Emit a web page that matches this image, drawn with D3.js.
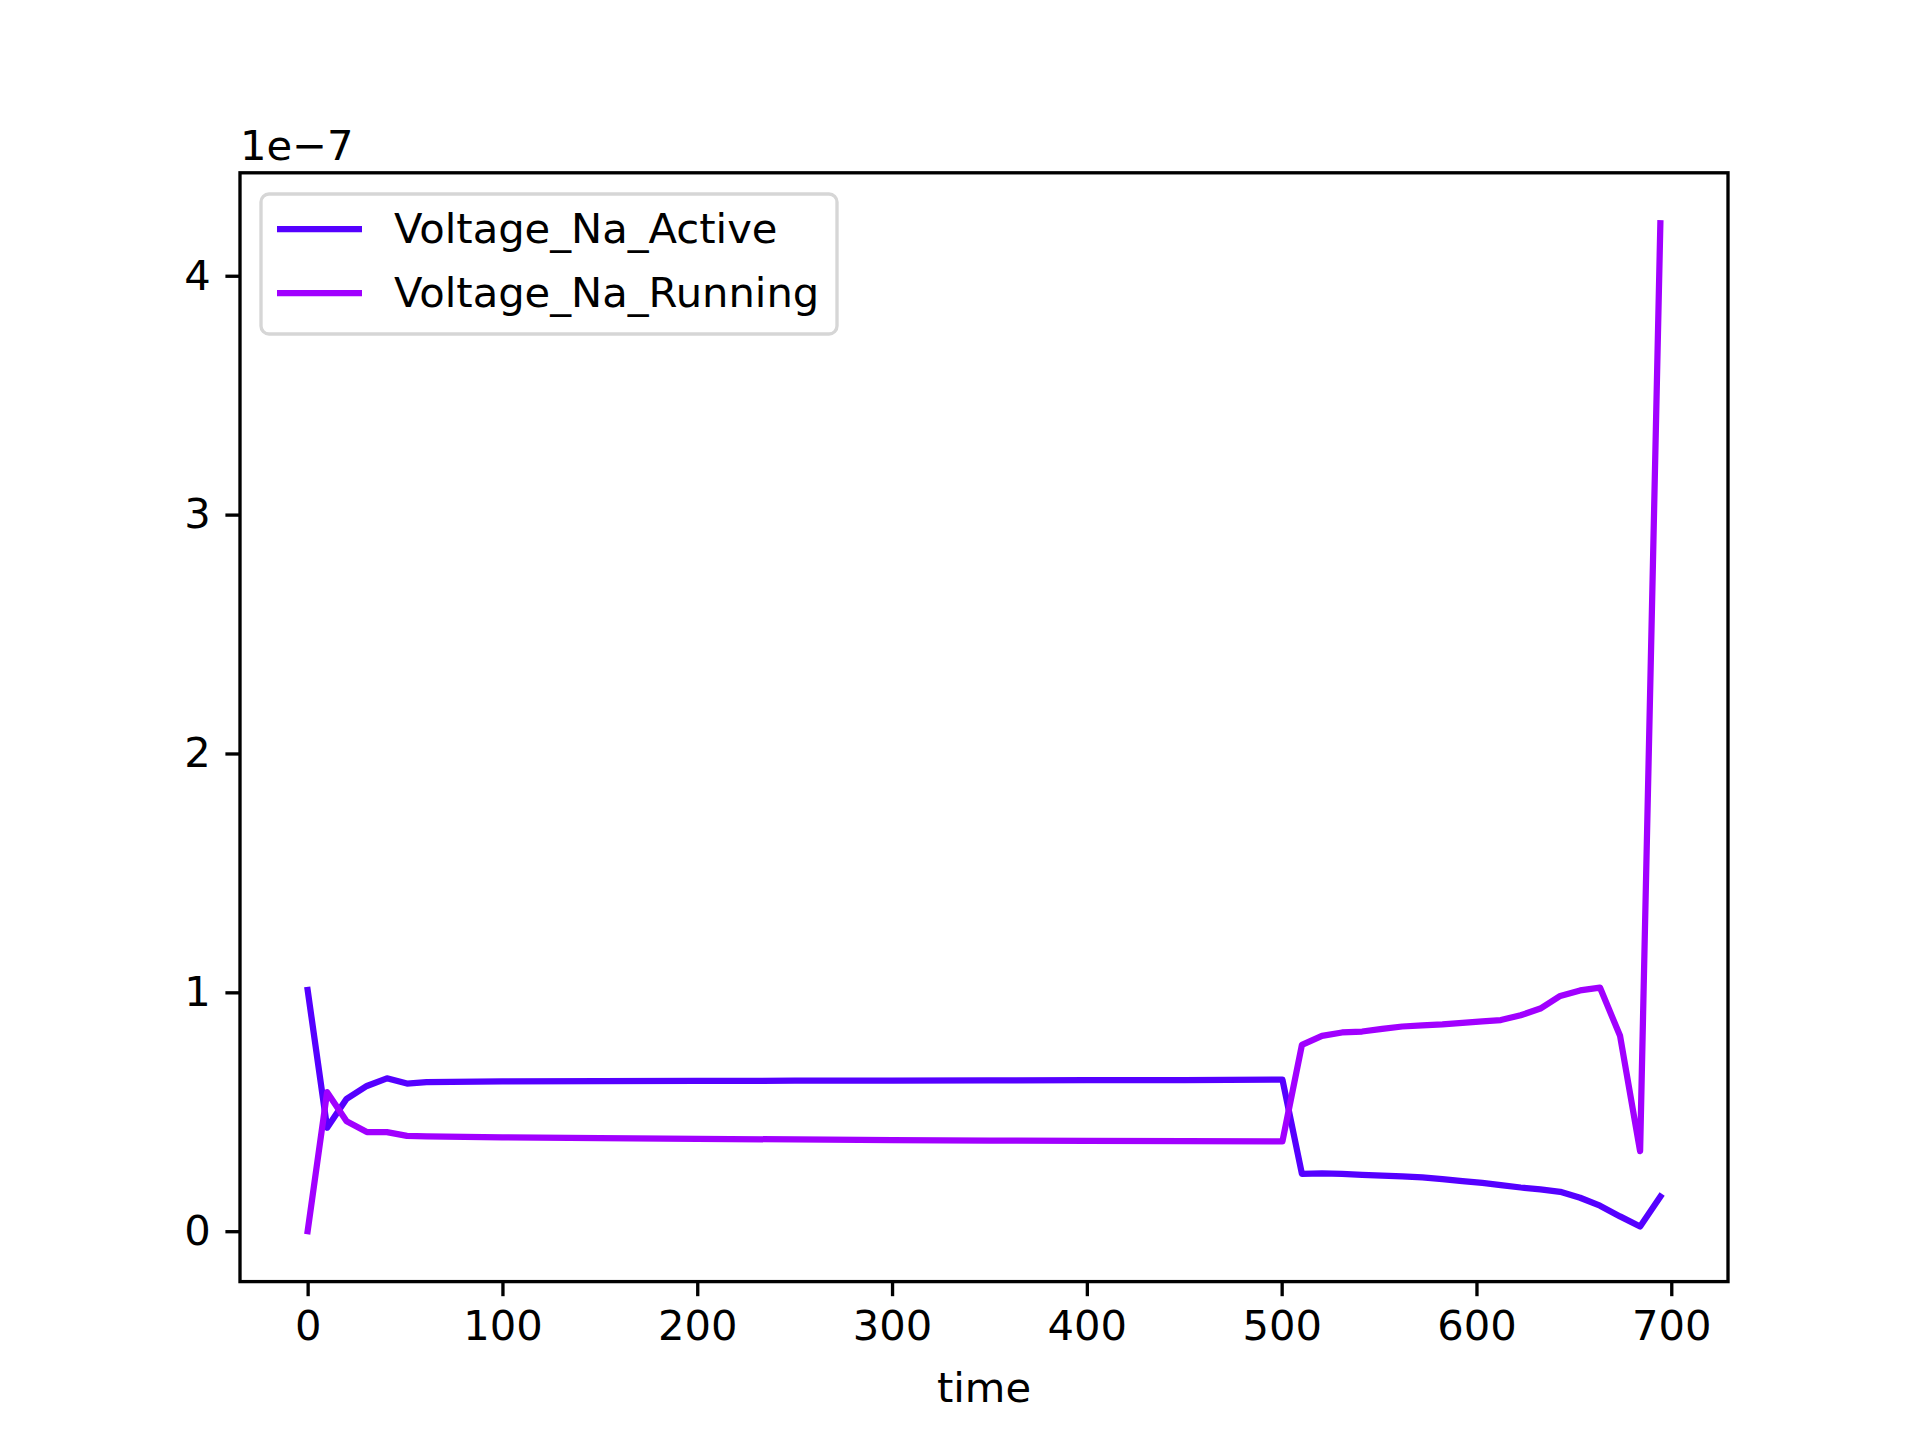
<!DOCTYPE html>
<html>
<head>
<meta charset="utf-8">
<script src="https://cdn.jsdelivr.net/npm/d3@7"></script>
<style>
  body { margin: 0; background: #fff; }
  svg { display: block; font-family: "DejaVu Sans", sans-serif; }
</style>
</head>
<body>
<svg id="chart" width="1920" height="1440"></svg>
<script>
// tempi (asse x)
const time = [0, 10, 20, 30.4, 40.7, 51, 61, 100, 150, 200, 250, 300, 350, 400, 450, 500.4,
  510.4, 520.7, 531, 541.3, 551.6, 561.9, 572.2, 582.5, 592.8, 603, 612.5, 622.7, 632.8,
  643, 653.2, 663.4, 673.7, 684, 694.4];

// valori in unità di 1e-7
const naActive = [1.01, 0.433, 0.554, 0.608, 0.64, 0.618, 0.624, 0.627, 0.628, 0.629, 0.63, 0.63, 0.631, 0.632, 0.632, 0.635,
  0.24, 0.242, 0.24, 0.236, 0.233, 0.23, 0.225, 0.218, 0.21, 0.202, 0.193, 0.183, 0.175,
  0.165, 0.14, 0.107, 0.062, 0.02, 0.145];

const naRunning = [0.0, 0.582, 0.46, 0.415, 0.415, 0.399, 0.397, 0.393, 0.39, 0.387, 0.384, 0.381, 0.379, 0.378, 0.377, 0.376,
  0.78, 0.818, 0.832, 0.836, 0.847, 0.857, 0.862, 0.866, 0.872, 0.878, 0.884, 0.904, 0.932,
  0.985, 1.008, 1.02, 0.818, 0.335, 4.22];

const xTicks = [0, 100, 200, 300, 400, 500, 600, 700];
const yTicks = [0, 1, 2, 3, 4];

const seriesList = [
  { name: 'Voltage_Na_Active', values: naActive, color: '#5500ff' },
  { name: 'Voltage_Na_Running', values: naRunning, color: '#a100ff' }
];

// geometria (matplotlib 6.4x4.8 a 300 dpi)
const fs = 41.67;
const lw = 6.25;
const axLeft = 240, axRight = 1728, axTop = 172.8, axBottom = 1281.6;

const svg = d3.select('#chart');

// margini 5% come matplotlib
const xmin = d3.min(time), xmax = d3.max(time);
const allY = naActive.concat(naRunning);
const ymin = d3.min(allY), ymax = d3.max(allY);
const xm = (xmax - xmin) * 0.05, ym = (ymax - ymin) * 0.05;

const x = d3.scaleLinear().domain([xmin - xm, xmax + xm]).range([axLeft, axRight]);
const y = d3.scaleLinear().domain([ymin - ym, ymax + ym]).range([axBottom, axTop]);

// linee
const line = d3.line().x((d, i) => x(time[i])).y(d => y(d));
const plot = svg.append('g');
seriesList.forEach(s => {
  plot.append('path')
    .datum(s.values)
    .attr('d', line)
    .attr('fill', 'none')
    .attr('stroke', s.color)
    .attr('stroke-width', lw)
    .attr('stroke-linejoin', 'round')
    .attr('stroke-linecap', 'square');
});

// assi
const xAxis = svg.append('g')
  .attr('transform', `translate(0,${axBottom})`)
  .call(d3.axisBottom(x).tickValues(xTicks).tickFormat(d3.format('d')).tickSize(14.6).tickPadding(14.6));
const yAxis = svg.append('g')
  .attr('transform', `translate(${axLeft},0)`)
  .call(d3.axisLeft(y).tickValues(yTicks).tickFormat(d3.format('d')).tickSize(14.6).tickPadding(14.6));

[xAxis, yAxis].forEach(ax => {
  ax.select('.domain').remove();
  ax.selectAll('.tick line').attr('stroke', '#000').attr('stroke-width', 3.33);
  ax.selectAll('.tick text')
    .attr('fill', '#000')
    .style('font-size', fs + 'px')
    .style('font-family', '"DejaVu Sans", sans-serif');
});

// cornice
svg.append('rect')
  .attr('x', axLeft).attr('y', axTop)
  .attr('width', axRight - axLeft).attr('height', axBottom - axTop)
  .attr('fill', 'none')
  .attr('stroke', '#000')
  .attr('stroke-width', 3.33);

// etichetta asse x
svg.append('text')
  .attr('x', (axLeft + axRight) / 2)
  .attr('y', 1402)
  .attr('text-anchor', 'middle')
  .style('font-size', fs + 'px')
  .text('time');

// offset scientifico
svg.append('text')
  .attr('x', axLeft)
  .attr('y', 160)
  .style('font-size', fs + 'px')
  .text('1e\u22127');

// legenda
const legend = svg.append('g');
legend.append('rect')
  .attr('x', 261).attr('y', 194)
  .attr('width', 576).attr('height', 140)
  .attr('rx', 8).attr('ry', 8)
  .attr('fill', 'rgba(255,255,255,0.8)')
  .attr('stroke', '#d6d6d6')
  .attr('stroke-width', 3.33);

seriesList.forEach((s, i) => {
  const cy = 229 + i * 64;
  legend.append('line')
    .attr('x1', 277).attr('x2', 362)
    .attr('y1', cy).attr('y2', cy)
    .attr('stroke', s.color)
    .attr('stroke-width', lw)
    .attr('stroke-linecap', 'butt');
  legend.append('text')
    .attr('x', 394)
    .attr('y', cy + 13.5)
    .style('font-size', fs + 'px')
    .text(s.name);
});
</script>
</body>
</html>
